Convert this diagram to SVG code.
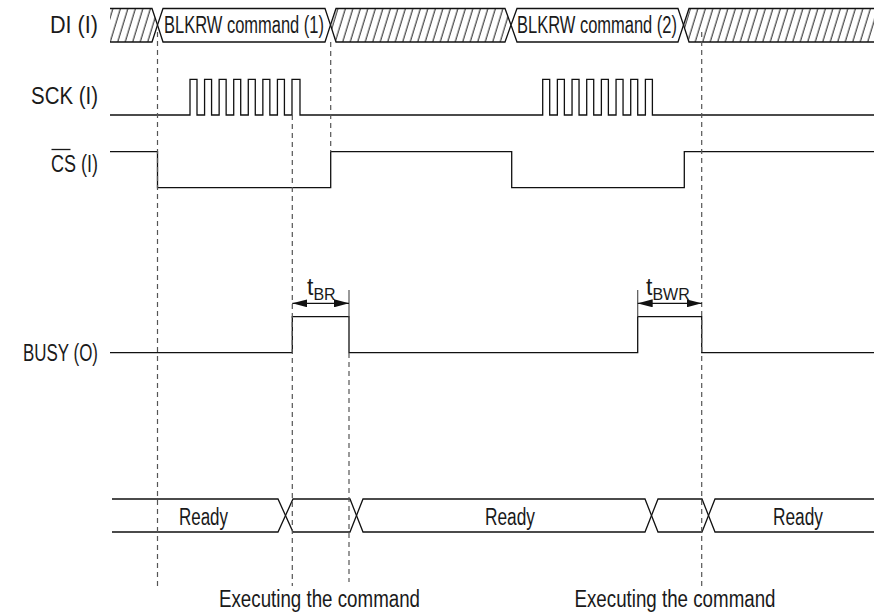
<svg xmlns="http://www.w3.org/2000/svg" width="874" height="615" viewBox="0 0 874 615">
<style>
.sig{fill:none;stroke:#111;stroke-width:1.3;stroke-linejoin:miter}
.hat{fill:url(#hatch);stroke:none}
.box{fill:#fff;stroke:#111;stroke-width:1.3}
.dash{fill:none;stroke:#555;stroke-width:1.2;stroke-dasharray:5 4}
.ext{fill:none;stroke:#555;stroke-width:1.2}
.dim{fill:none;stroke:#111;stroke-width:1.2}
text{font-family:"Liberation Sans",Arial,sans-serif;fill:#1a1a1a;font-size:23px}
.sub{font-size:16px}
</style>
<defs>
<pattern id="hatch" patternUnits="userSpaceOnUse" width="7.5" height="40" patternTransform="skewX(-17)">
<line x1="3" y1="-5" x2="3" y2="45" stroke="#111" stroke-width="1"/>
</pattern>
<marker id="arr" viewBox="0 0 15 8" refX="15" refY="4" markerWidth="15" markerHeight="8" markerUnits="userSpaceOnUse" orient="auto-start-reverse">
<path d="M0,0 L15,4 L0,8 Z" fill="#111"/>
</marker>
</defs>
<rect width="874" height="615" fill="#fff"/>

<g id="labels">
<text x="98" y="33" text-anchor="end" textLength="48" lengthAdjust="spacingAndGlyphs">DI (I)</text>
<text x="98" y="104" text-anchor="end" textLength="67" lengthAdjust="spacingAndGlyphs">SCK (I)</text>
<text x="98" y="172" text-anchor="end" textLength="47" lengthAdjust="spacingAndGlyphs">CS (I)</text>
<line x1="51.5" y1="149.5" x2="70.5" y2="149.5" stroke="#1a1a1a" stroke-width="1.3"/>
<text x="98" y="361" text-anchor="end" textLength="75" lengthAdjust="spacingAndGlyphs">BUSY (O)</text>
</g>

<g id="di">
<path class="hat" d="M110,8.5 H152 L157.5,25 L152,42 H110 Z"/>
<path class="sig" d="M110,8.5 H152 L157.5,25 L152,42 H110"/>
<path class="box" d="M163,8.5 H325 L330.5,25 L325,42 H163 L157.5,25 Z"/>
<text x="164" y="32.5" textLength="160" lengthAdjust="spacingAndGlyphs">BLKRW command (1)</text>
<path class="hat" d="M336,8.5 H505 L511,25 L505,42 H336 L330.5,25 Z"/>
<path class="sig" d="M336,8.5 H505 L511,25 L505,42 H336 L330.5,25 Z"/>
<path class="box" d="M517,8.5 H678 L683.5,25 L678,42 H517 L511,25 Z"/>
<text x="517" y="32.5" textLength="160" lengthAdjust="spacingAndGlyphs">BLKRW command (2)</text>
<path class="hat" d="M874,8.5 H689 L683.5,25 L689,42 H874 Z"/>
<path class="sig" d="M874,8.5 H689 L683.5,25 L689,42 H874"/>
</g>

<g id="sck">
<path class="sig" d="M110,115 H190
V79.3 h7 V115 h7.57 V79.3 h7 V115 h7.57 V79.3 h7 V115 h7.57 V79.3 h7 V115 h7.57 V79.3 h7 V115 h7.57 V79.3 h7 V115 h7.57 V79.3 h7 V115 h7.57 V79.3 h8 V115
H542.7
V79.3 h7 V115 h7.67 V79.3 h7 V115 h7.67 V79.3 h7 V115 h7.67 V79.3 h7 V115 h7.67 V79.3 h7 V115 h7.67 V79.3 h7 V115 h7.67 V79.3 h7 V115 h7.67 V79.3 h7 V115
H874"/>
</g>

<g id="cs">
<path class="sig" d="M110,151.7 H157.5 V187.7 H330.7 V151.7 H511.7 V187.7 H684.3 V151.7 H874"/>
</g>

<g id="busy">
<path class="sig" d="M110,352.7 H292.3 V316.7 H349 V352.7 H637.7 V316.7 H701.7 V352.7 H874"/>
</g>

<g id="status">
<path class="sig" d="M112,499 H278 L285.5,515.5 L278,532 H112"/>
<path class="sig" d="M293,499 H350 L356.5,515.5 L350,532 H293 L285.5,515.5 Z"/>
<path class="sig" d="M363,499 H645 L651.5,515.5 L645,532 H363 L356.5,515.5 Z"/>
<path class="sig" d="M658,499 H702 L708.5,515.5 L702,532 H658 L651.5,515.5 Z"/>
<path class="sig" d="M874,499 H715 L708.5,515.5 L715,532 H874"/>
<text x="203.5" y="525" text-anchor="middle" textLength="49" lengthAdjust="spacingAndGlyphs">Ready</text>
<text x="510" y="525" text-anchor="middle" textLength="50" lengthAdjust="spacingAndGlyphs">Ready</text>
<text x="798" y="525" text-anchor="middle" textLength="50" lengthAdjust="spacingAndGlyphs">Ready</text>
</g>

<g id="connectors">
<line class="dash" x1="157.5" y1="32" x2="157.5" y2="586"/>
<line class="dash" x1="292.3" y1="115" x2="292.3" y2="586"/>
<line class="dash" x1="330.7" y1="42" x2="330.7" y2="152"/>
<line class="ext" x1="349" y1="290" x2="349" y2="316.7"/>
<line class="dash" x1="349" y1="353" x2="349" y2="582"/>
<line class="ext" x1="637.7" y1="290" x2="637.7" y2="316.7"/>
<line class="dash" x1="701.7" y1="32" x2="701.7" y2="586"/>
<line class="dim" x1="292.3" y1="303.3" x2="349" y2="303.3" marker-start="url(#arr)" marker-end="url(#arr)"/>
<line class="dim" x1="637.7" y1="303.3" x2="701.7" y2="303.3" marker-start="url(#arr)" marker-end="url(#arr)"/>
</g>

<g id="dim-labels">
<text x="307" y="295">t<tspan class="sub" dy="5">BR</tspan></text>
<text x="646" y="295">t<tspan class="sub" dy="5">BWR</tspan></text>
</g>

<g id="notes">
<text x="319.5" y="607" text-anchor="middle" textLength="201" lengthAdjust="spacingAndGlyphs">Executing the command</text>
<text x="675" y="607" text-anchor="middle" textLength="201" lengthAdjust="spacingAndGlyphs">Executing the command</text>
</g>
</svg>
